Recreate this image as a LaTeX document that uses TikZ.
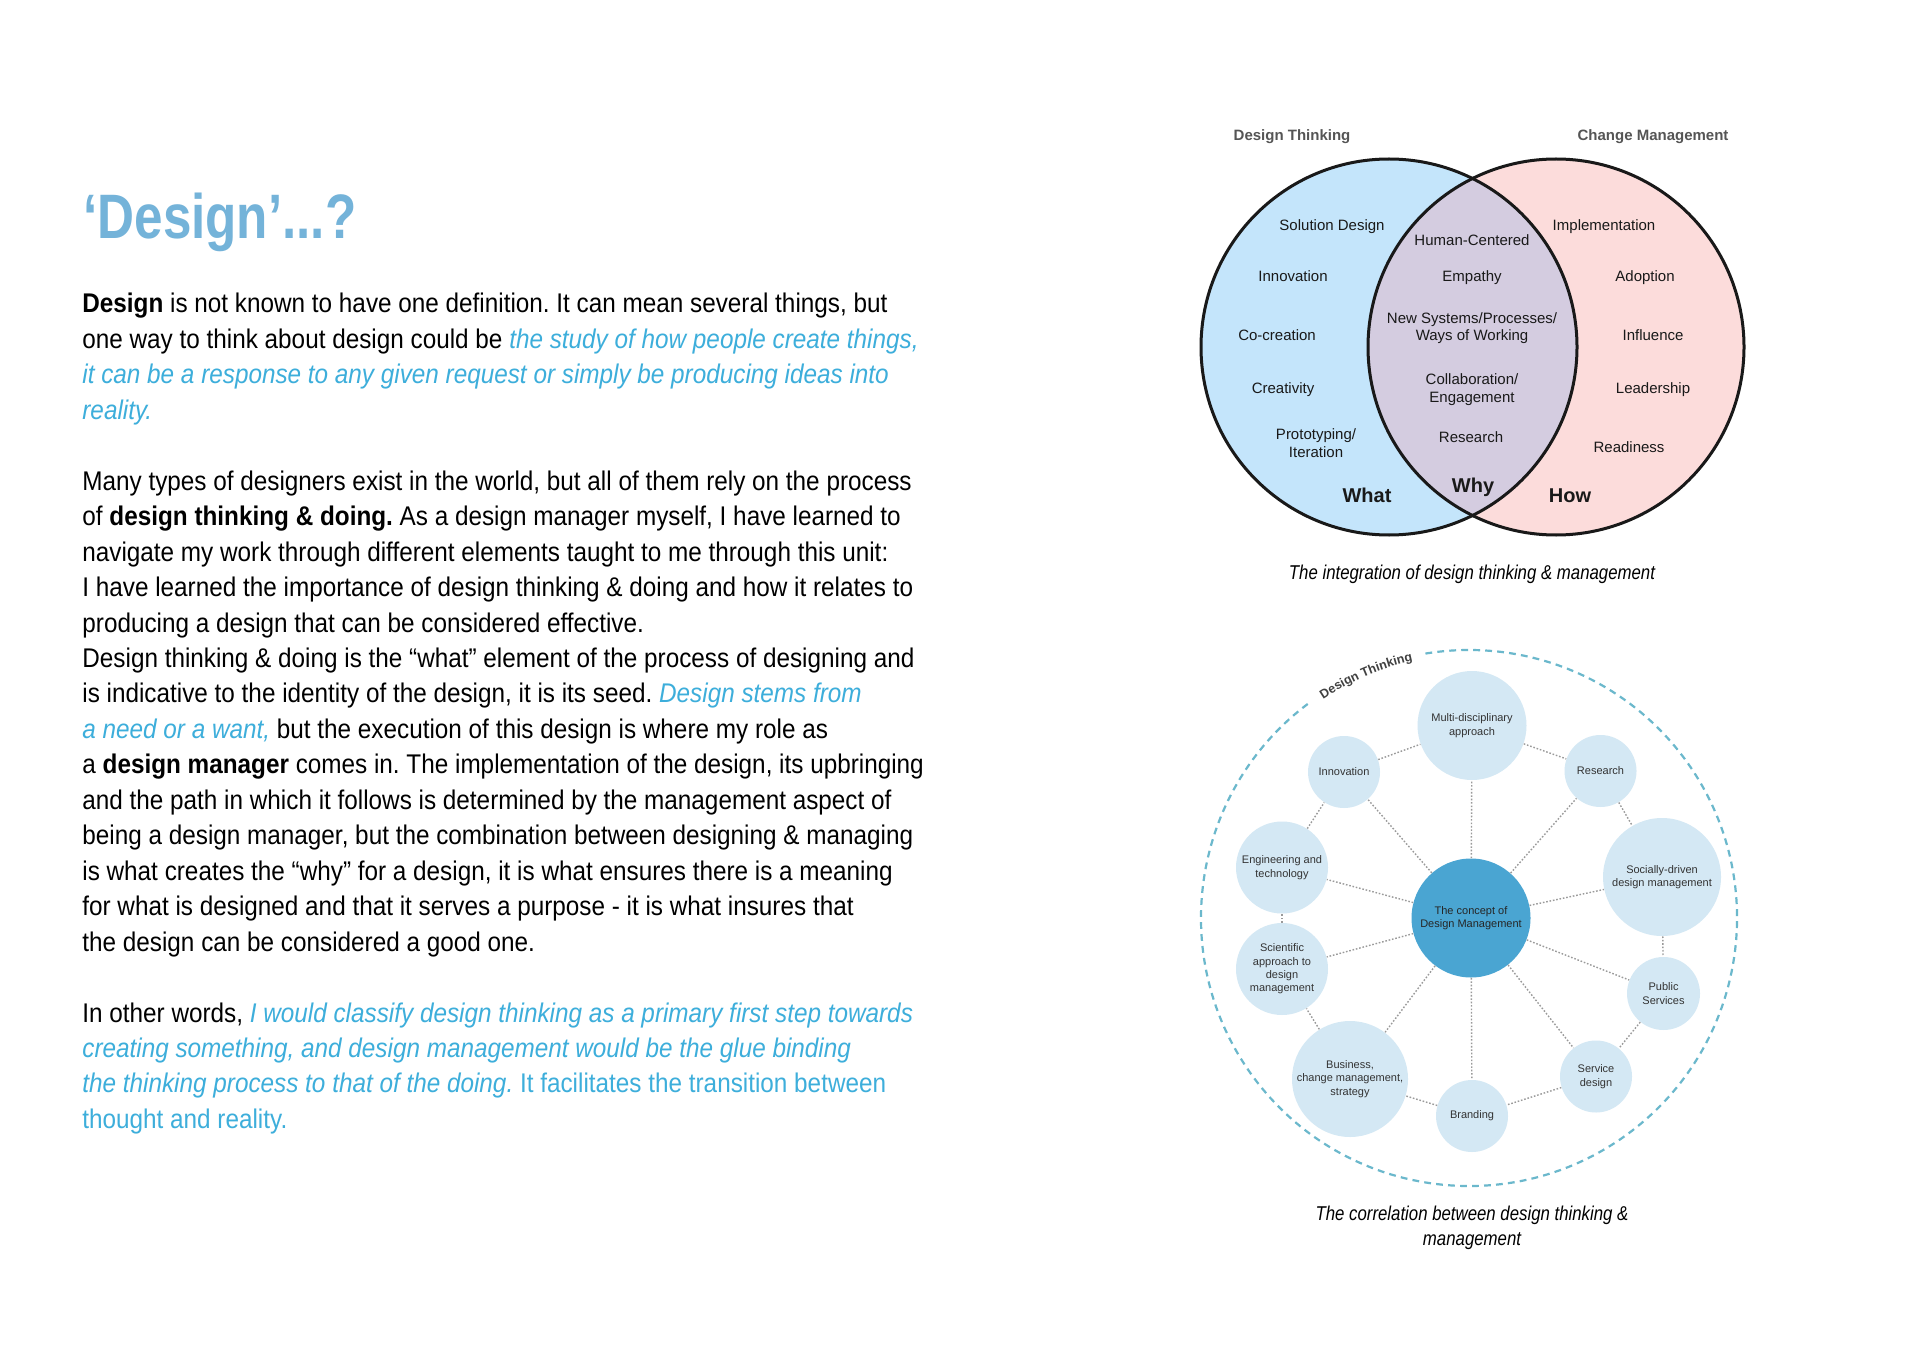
\documentclass[tikz,border=0pt]{standalone}
\usepackage{fontspec}
\setmainfont{Liberation Sans}
\newfontfamily\bodyfont{Liberation Sans}[FakeStretch=0.9]
\newfontfamily\titlefont{Liberation Sans}[FakeStretch=0.815]
\newfontfamily\capfont{Liberation Sans}[FakeStretch=0.84]
\usetikzlibrary{decorations.text}
\frenchspacing
\definecolor{tblue}{HTML}{74B3D9}
\definecolor{iblue}{HTML}{3DAEDB}
\definecolor{vleft}{HTML}{C4E5FB}
\definecolor{vright}{HTML}{FCDCDB}
\definecolor{vmid}{HTML}{D4CCE0}
\definecolor{hgray}{HTML}{555555}
\definecolor{bubfill}{HTML}{D4E8F4}
\definecolor{concfill}{HTML}{4AA5D2}
\definecolor{dashblue}{HTML}{6BB8CC}
\definecolor{dotgray}{HTML}{9A9A9A}
\definecolor{btext}{HTML}{333333}
\newcommand{\bluit}[1]{{\color{iblue}\itshape #1}}
\newcommand{\bluup}[1]{{\color{iblue}#1}}
\begin{document}
\frenchspacing
\begin{tikzpicture}[x=0.5pt,y=-0.5pt,
  body/.style={font=\bodyfont\fontsize{13.5}{16}\selectfont\frenchspacing, inner sep=0pt, anchor=base west, text=black},
  titlestyle/.style={font=\titlefont\bfseries\fontsize{31.4}{36}\selectfont, inner sep=0pt, anchor=base west, text=tblue},
  capstyle/.style={font=\capfont\itshape\fontsize{10}{12}\selectfont, inner sep=0pt, anchor=base, text=black},
  lbl/.style={font=\fontsize{7.5}{9}\selectfont, inner sep=0pt, anchor=base, text=black!90},
  hdr/.style={font=\bfseries\fontsize{7.5}{9}\selectfont, inner sep=0pt, anchor=base, text=hgray},
  big/.style={font=\bfseries\fontsize{10}{12}\selectfont, inner sep=0pt, anchor=base, text=black!90},
  bub/.style={circle, fill=bubfill, inner sep=0pt, align=center, text=btext, font=\fontsize{5.5}{6.65}\selectfont},
  conc/.style={circle, fill=concfill, inner sep=0pt, align=center, text=black!85, font=\fontsize{5.5}{6.65}\selectfont},
  dotl/.style={draw=dotgray, line width=0.7pt, dash pattern=on 0.8pt off 0.9pt},
  dashc/.style={draw=dashblue, line width=1.1pt, dash pattern=on 3.4pt off 2.6pt}
]
\useasboundingbox (0,0) rectangle (1920,1358);
\fill[white] (0,0) rectangle (1920,1358);

% ---------------- left text column ----------------
\node[titlestyle] (title) at (83,238.3) {‘Design’...?};

\node[body] (p1) at (82,313) {\textbf{Design} is not known to have one definition. It can mean several things, but};
\node[body] (p2) at (82,348.45) {one way to think about design could be \bluit{the study of how people create things,}};
\node[body] (p3) at (82,383.9) {\bluit{it can be a response to any given request or simply be producing ideas into}};
\node[body] (p4) at (82,419.35) {\bluit{reality.}};

\node[body] (q1) at (82,490.25) {Many types of designers exist in the world, but all of them rely on the process};
\node[body] (q2) at (82,525.7) {of \textbf{design thinking \& doing.} As a design manager myself, I have learned to};
\node[body] (q3) at (82,561.15) {navigate my work through different elements taught to me through this unit:};
\node[body] (q4) at (82,596.6) {I have learned the importance of design thinking \& doing and how it relates to};
\node[body] (q5) at (82,632.05) {producing a design that can be considered effective.};
\node[body] (q6) at (82,667.5) {Design thinking \& doing is the “what” element of the process of designing and};
\node[body] (q7) at (82,702.95) {is indicative to the identity of the design, it is its seed. \bluit{Design stems from}};
\node[body] (q8) at (82,738.4) {\bluit{a need or a want,} but the execution of this design is where my role as};
\node[body] (q9) at (82,773.85) {a \textbf{design manager} comes in. The implementation of the design, its upbringing};
\node[body] (q10) at (82,809.3) {and the path in which it follows is determined by the management aspect of};
\node[body] (q11) at (82,844.75) {being a design manager, but the combination between designing \& managing};
\node[body] (q12) at (82,880.2) {is what creates the “why” for a design, it is what ensures there is a meaning};
\node[body] (q13) at (82,915.65) {for what is designed and that it serves a purpose - it is what insures that};
\node[body] (q14) at (82,951.1) {the design can be considered a good one.};

\node[body] (r1) at (82,1022) {In other words, \bluit{I would classify design thinking as a primary first step towards}};
\node[body] (r2) at (82,1057.45) {\bluit{creating something, and design management would be the glue binding}};
\node[body] (r3) at (82,1092.9) {\bluit{the thinking process to that of the doing.} \bluup{It facilitates the transition between}};
\node[body] (r4) at (82,1128.35) {\bluup{thought and reality.}};

% ---------------- Venn diagram ----------------
\coordinate (vl) at (1389,347);
\coordinate (vr) at (1556,347);
\fill[vleft] (vl) circle[radius=94pt];
\fill[vright] (vr) circle[radius=94pt];
\begin{scope}
  \clip (vl) circle[radius=94pt];
  \fill[vmid] (vr) circle[radius=94pt];
\end{scope}
\draw[line width=1.5pt, black!90] (vl) circle[radius=94pt];
\draw[line width=1.5pt, black!90] (vr) circle[radius=94pt];

\node[hdr] (hdt) at (1292,141) {Design Thinking};
\node[hdr] (hcm) at (1653,141) {Change Management};

\node[lbl] (l1) at (1332,230.5) {Solution Design};
\node[lbl] (l2) at (1293,282) {Innovation};
\node[lbl] (l3) at (1277,341) {Co-creation};
\node[lbl] (l4) at (1283,393.5) {Creativity};
\node[lbl] (l5a) at (1316,439) {Prototyping/};
\node[lbl] (l5b) at (1316,457) {Iteration};
\node[big] (what) at (1367,502) {What};

\node[lbl] (m1) at (1472,245.5) {Human-Centered};
\node[lbl] (m2) at (1472,282) {Empathy};
\node[lbl] (m3a) at (1472,323.7) {New Systems/Processes/};
\node[lbl] (m3b) at (1472,341) {Ways of Working};
\node[lbl] (m4a) at (1472,384.6) {Collaboration/};
\node[lbl] (m4b) at (1472,402) {Engagement};
\node[lbl] (m5) at (1471,442.5) {Research};
\node[big] (why) at (1473,492) {Why};

\node[lbl] (n1) at (1604,230.5) {Implementation};
\node[lbl] (n2) at (1645,282) {Adoption};
\node[lbl] (n3) at (1653,341) {Influence};
\node[lbl] (n4) at (1653,393.5) {Leadership};
\node[lbl] (n5) at (1629,452) {Readiness};
\node[big] (how) at (1570,502) {How};

\node[capstyle] (cap1) at (1472,579.3) {The integration of design thinking \& management};

% ---------------- bubble diagram ----------------
\coordinate (oc) at (1469,918);
\draw[dashc] ([shift={(127:134pt)}]oc) arc[start angle=127,end angle=460,radius=134pt];
\path[decorate,decoration={text along path,text align=center,text color=black!75,
   text={|\bfseries\fontsize{6.3}{7}\selectfont|Design Thinking}}]
   ([shift={(125:131.5pt)}]oc) arc[start angle=125,end angle=101,radius=131.5pt];

\node[conc, minimum size=59.5pt] (cdm) at (1471,918) {The concept of\\Design Management};
\node[bub, minimum size=54.5pt] (mult) at (1472,725.5) {Multi-disciplinary\\approach};
\node[bub, minimum size=36pt] (inno) at (1344,772) {Innovation};
\node[bub, minimum size=36pt] (res) at (1600.5,771) {Research};
\node[bub, minimum size=46pt] (eng) at (1282,867.5) {Engineering and\\technology};
\node[bub, minimum size=59pt] (soc) at (1662,877) {Socially-driven\\design management};
\node[bub, minimum size=46pt] (sci) at (1282,969) {Scientific\\approach to\\design\\management};
\node[bub, minimum size=36.5pt] (pub) at (1663.5,993.5) {Public\\Services};
\node[bub, minimum size=58pt] (bus) at (1350,1079) {Business,\\change management,\\strategy};
\node[bub, minimum size=36pt] (brand) at (1472,1116) {Branding};
\node[bub, minimum size=36pt] (serv) at (1596,1076.5) {Service\\design};

\foreach \n in {mult,inno,res,eng,soc,sci,pub,bus,brand,serv}
  \draw[dotl] (cdm) -- (\n);
\draw[dotl] (inno) -- (mult);
\draw[dotl] (mult) -- (res);
\draw[dotl] (res) -- (soc);
\draw[dotl] (soc) -- (pub);
\draw[dotl] (pub) -- (serv);
\draw[dotl] (serv) -- (brand);
\draw[dotl] (brand) -- (bus);
\draw[dotl] (bus) -- (sci);
\draw[dotl] (sci) -- (eng);
\draw[dotl] (eng) -- (inno);

\node[capstyle] (cap2a) at (1472,1220) {The correlation between design thinking \&};
\node[capstyle] (cap2b) at (1472,1245) {management};
\end{tikzpicture}
\end{document}
